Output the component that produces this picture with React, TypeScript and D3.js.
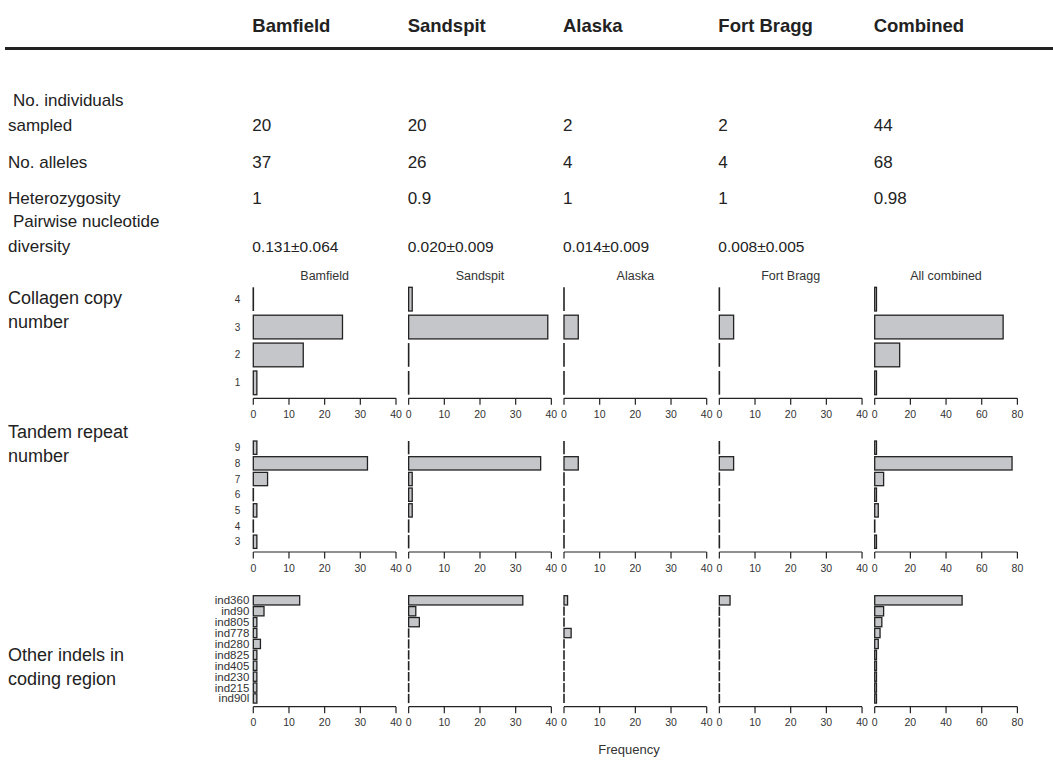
import React from "react";
import * as d3 from "d3";

// ---------- data ----------
const columns = ["Bamfield", "Sandspit", "Alaska", "Fort Bragg", "Combined"];
const panelTitles = ["Bamfield", "Sandspit", "Alaska", "Fort Bragg", "All combined"];

const nIndividuals = ["20", "20", "2", "2", "44"];
const nAlleles = ["37", "26", "4", "4", "68"];
const heterozygosity = ["1", "0.9", "1", "1", "0.98"];
const nucleotideDiversity = ["0.131±0.064", "0.020±0.009", "0.014±0.009", "0.008±0.005", ""];

const copyCats = ["4", "3", "2", "1"];
const copyCounts = [
  [0, 25, 14, 1],
  [1, 39, 0, 0],
  [0, 4, 0, 0],
  [0, 4, 0, 0],
  [1, 72, 14, 1],
];

const repeatCats = ["9", "8", "7", "6", "5", "4", "3"];
const repeatCounts = [
  [1, 32, 4, 0, 1, 0, 1],
  [0, 37, 1, 1, 1, 0, 0],
  [0, 4, 0, 0, 0, 0, 0],
  [0, 4, 0, 0, 0, 0, 0],
  [1, 77, 5, 1, 2, 0, 1],
];

const indelCats = ["ind360", "ind90", "ind805", "ind778", "ind280", "ind825", "ind405", "ind230", "ind215", "ind90l"];
const indelCounts = [
  [13, 3, 1, 1, 2, 1, 1, 1, 1, 1],
  [32, 2, 3, 0, 0, 0, 0, 0, 0, 0],
  [1, 0, 0, 2, 0, 0, 0, 0, 0, 0],
  [3, 0, 0, 0, 0, 0, 0, 0, 0, 0],
  [49, 5, 4, 3, 2, 1, 1, 1, 1, 1],
];

const xMax = [40, 40, 40, 40, 80];
const xTicks40 = [0, 10, 20, 30, 40];
const xTicks80 = [0, 20, 40, 60, 80];

const rowLabels = [
  ["Collagen copy", "number"],
  ["Tandem repeat", "number"],
  ["Other indels in", "coding region"],
];

// ---------- layout ----------
const W = 1053;
const H = 764;
const FONT = "'Liberation Sans', Arial, Helvetica, sans-serif";
const INK = "#222";
const colX = (i: number) => 253.3 + i * 155.35;
const panelW = 142.7;
const rowTops = [287.3, 441, 595.7];
const rowLabelBase = [304.3, 438, 661];
const barSpan = 107.4;
const axisOffset = 111;

function Panel({ r, p, cats, counts }: { r: number; p: number; cats: string[]; counts: number[] }) {
  const x0 = colX(p);
  const x = d3.scaleLinear().domain([0, xMax[p]]).range([x0, x0 + panelW]);
  const y = d3.scaleBand<string>().domain(cats).range([rowTops[r], rowTops[r] + barSpan]).paddingInner(0.15).paddingOuter(0);
  const axisY = rowTops[r] + axisOffset;
  const ticks = xMax[p] === 80 ? xTicks80 : xTicks40;
  const labelSize = r === 2 ? 11.5 : 10;
  return (
    <g>
      {cats.map((c, i) => {
        const v = counts[i];
        const yy = y(c)!;
        if (v === 0) {
          return <line key={c} x1={x(0)} x2={x(0)} y1={yy} y2={yy + y.bandwidth()} stroke={INK} strokeWidth={1.6} />;
        }
        return (
          <rect key={c} x={x(0)} y={yy} width={x(v) - x(0)} height={y.bandwidth()} fill="#c5c6ca" stroke={INK} strokeWidth={1.3} />
        );
      })}
      <line x1={x(0)} x2={x(xMax[p])} y1={axisY} y2={axisY} stroke={INK} strokeWidth={1.2} />
      {ticks.map((t) => (
        <g key={t}>
          <line x1={x(t)} x2={x(t)} y1={axisY} y2={axisY + 6.5} stroke={INK} strokeWidth={1.2} />
          <text x={x(t)} y={axisY + 19.5} textAnchor="middle" fontSize={10.5} fill="#333" fontFamily={FONT}>
            {t}
          </text>
        </g>
      ))}
      {p === 0 &&
        cats.map((c) => (
          <text
            key={"l" + c}
            x={r === 2 ? x0 - 4 : x0 - 13}
            y={y(c)! + y.bandwidth() / 2}
            dy="0.35em"
            textAnchor="end"
            fontSize={labelSize}
            fill="#333"
            fontFamily={FONT}
          >
            {c}
          </text>
        ))}
      {r === 0 && (
        <text x={x0 + panelW / 2} y={rowTops[0] - 7} textAnchor="middle" fontSize={12.5} fill="#333" fontFamily={FONT}>
          {panelTitles[p]}
        </text>
      )}
    </g>
  );
}

export default function App() {
  const tableRows: { label: string[]; values: string[]; y: number; small?: boolean }[] = [
    { label: ["No. individuals", "sampled"], values: nIndividuals, y: 131 },
    { label: ["No. alleles"], values: nAlleles, y: 168 },
    { label: ["Heterozygosity"], values: heterozygosity, y: 204 },
    { label: ["Pairwise nucleotide", "diversity"], values: nucleotideDiversity, y: 252, small: true },
  ];
  const rows = [
    { cats: copyCats, counts: copyCounts },
    { cats: repeatCats, counts: repeatCounts },
    { cats: indelCats, counts: indelCounts },
  ];
  return (
    <svg width={W} height={H} style={{ position: "absolute", left: 0, top: 0, background: "#fff" }} fontFamily={FONT}>
      <rect width={W} height={H} fill="#fff" />
      {columns.map((c, i) => (
        <text key={c} x={colX(i) - 1} y={32} fontSize={18.5} fontWeight="bold" fill={INK}>
          {c}
        </text>
      ))}
      <line x1={5} x2={W} y1={48.5} y2={48.5} stroke={INK} strokeWidth={3.2} />
      {tableRows.map((row) => (
        <g key={row.label[0]}>
          {row.label.map((l, k) => (
            <text
              key={l}
              x={k === 0 && row.label.length > 1 ? 13 : 8}
              y={row.y - (row.label.length - 1 - k) * 25}
              fontSize={17}
              fill={INK}
            >
              {l}
            </text>
          ))}
          {row.values.map((v, i) => (
            <text key={i} x={colX(i) - 1} y={row.y} fontSize={row.small ? 15.5 : 17} fill={INK}>
              {v}
            </text>
          ))}
        </g>
      ))}
      {rowLabels.map((lab, r) =>
        lab.map((l, k) => (
          <text key={r + "-" + k} x={8} y={rowLabelBase[r] + k * 24} fontSize={18} fill={INK}>
            {l}
          </text>
        ))
      )}
      {rows.map((row, r) =>
        columns.map((_, p) => <Panel key={r + "-" + p} r={r} p={p} cats={row.cats} counts={row.counts[p]} />)
      )}
      <text x={629} y={754} textAnchor="middle" fontSize={13} fill="#333">
        Frequency
      </text>
    </svg>
  );
}
